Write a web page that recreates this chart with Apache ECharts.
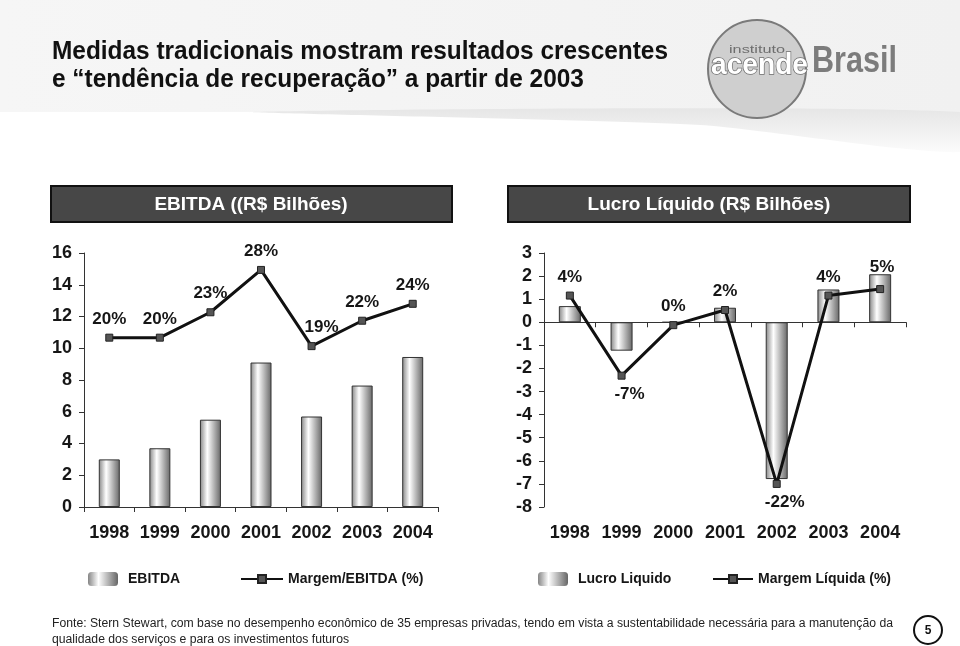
<!DOCTYPE html>
<html>
<head>
<meta charset="utf-8">
<script src="https://cdn.jsdelivr.net/npm/echarts@6/dist/echarts.min.js"></script>
<style>
html,body{margin:0;padding:0;background:#fff;}
#chart{width:960px;height:646px;}
</style>
</head>
<body>
<div id="chart"></div>
<script>
// ---- data ----
const years = ['1998', '1999', '2000', '2001', '2002', '2003', '2004'];
const ebitda = [3.0, 3.7, 5.5, 9.1, 5.7, 7.65, 9.45];            // R$ bilhões
const ebitdaMargin = [20, 20, 23, 28, 19, 22, 24];               // %
const lucro = [0.70, -1.23, 0, 0.63, -6.79, 1.42, 2.08];         // R$ bilhões
const lucroMargin = [3.7, -7.4, -0.4, 1.7, -22.4, 3.7, 4.6];     // %
const leftTitle = 'EBITDA ((R$ Bilhões)';
const rightTitle = 'Lucro Líquido (R$ Bilhões)';
const seriesNames = ['EBITDA', 'Margem/EBITDA (%)', 'Lucro Liquido', 'Margem Líquida (%)'];
const titleLines = ['Medidas tradicionais mostram resultados crescentes', 'e \u201Ctendência de recuperação\u201D a partir de 2003'];
const footerLines = ['Fonte: Stern Stewart, com base no desempenho econômico de 35 empresas privadas, tendo em vista a sustentabilidade necessária para a manutenção da',
                     'qualidade dos serviços e para os investimentos futuros'];
const logoTexts = ['instituto', 'acende', 'Brasil'];
const pageNumber = '5';

// ---- helpers ----
const FF = '"Liberation Sans", Arial, sans-serif';
const mctx = document.createElement('canvas').getContext('2d');
function fitScale(text, font, target) { mctx.font = font; return target / mctx.measureText(text).width; }

const barGrad = {
  type: 'linear', x: 0, y: 0, x2: 1, y2: 0,
  colorStops: [
    {offset: 0, color: '#858585'},
    {offset: 0.35, color: '#ffffff'},
    {offset: 1, color: '#666666'}
  ]
};
const txt = '#161616';
const axisCol = '#333';

const titleFont = 'bold 26px ' + FF;
const titleScale = fitScale(titleLines[0], titleFont, 616);
const footFont = '12px ' + FF;
const footScale = fitScale(footerLines[0], footFont, 841);

const instFont = '10px ' + FF;
const acendeFont = 'bold 30px ' + FF;
const brasilFont = 'bold 36px ' + FF;

const chart = echarts.init(document.getElementById('chart'), null, {renderer: 'canvas'});

function axisLabelStyle(margin) {
  return {margin: margin, interval: 0, fontSize: 18, fontWeight: 'bold', color: txt, fontFamily: FF};
}

const lineLabel = {
  show: true, position: 'top', distance: 6,
  fontSize: 17, fontWeight: 'bold', color: txt, fontFamily: FF,
  formatter: p => Math.round(p.value) + '%'
};

const legendText = {fontSize: 14, fontWeight: 'bold', color: txt, fontFamily: FF};

const option = {
  backgroundColor: '#ffffff',
  animation: false,
  grid: [
    {left: 84, top: 253, width: 354, height: 254},
    {left: 544, top: 253, width: 362, height: 254}
  ],
  xAxis: [
    {gridIndex: 0, type: 'category', data: years,
     axisLine: {lineStyle: {color: axisCol, width: 1}},
     axisTick: {show: true, length: 5, lineStyle: {color: axisCol}},
     axisLabel: axisLabelStyle(17)},
    {gridIndex: 1, type: 'category', data: years,
     axisLine: {onZero: true, lineStyle: {color: axisCol, width: 1}},
     axisTick: {show: true, length: 5, lineStyle: {color: axisCol}},
     axisLabel: {show: false}},
    {gridIndex: 1, type: 'category', data: years, position: 'bottom',
     axisLine: {show: false, onZero: false}, axisTick: {show: false},
     axisLabel: axisLabelStyle(17)}
  ],
  yAxis: [
    {gridIndex: 0, type: 'value', min: 0, max: 16, interval: 2,
     axisLine: {show: true, lineStyle: {color: axisCol}},
     axisTick: {show: true, length: 5, lineStyle: {color: axisCol}},
     splitLine: {show: false},
     axisLabel: axisLabelStyle(12)},
    {gridIndex: 0, type: 'value', min: 0, max: 30, show: false, splitLine: {show: false}},
    {gridIndex: 1, type: 'value', min: -8, max: 3, interval: 1,
     axisLine: {show: true, lineStyle: {color: axisCol}},
     axisTick: {show: true, length: 5, lineStyle: {color: axisCol}},
     splitLine: {show: false},
     axisLabel: axisLabelStyle(12)},
    {gridIndex: 1, type: 'value', min: -25.6, max: 9.6, show: false, splitLine: {show: false}}
  ],
  legend: [
    {data: [seriesNames[0]], left: 88, top: 572, itemWidth: 30, itemHeight: 14, padding: 0, selectedMode: false,
     itemStyle: {borderWidth: 0},
     textStyle: Object.assign({padding: [0, 0, 0, 5]}, legendText)},
    {data: [seriesNames[1]], left: 240, top: 572, itemWidth: 42, itemHeight: 10, padding: 0, selectedMode: false,
     textStyle: legendText},
    {data: [seriesNames[2]], left: 538, top: 572, itemWidth: 30, itemHeight: 14, padding: 0, selectedMode: false,
     itemStyle: {borderWidth: 0},
     textStyle: Object.assign({padding: [0, 0, 0, 5]}, legendText)},
    {data: [seriesNames[3]], left: 712, top: 572, itemWidth: 40, itemHeight: 10, padding: 0, selectedMode: false,
     textStyle: legendText}
  ],
  series: [
    {name: seriesNames[0], type: 'bar', xAxisIndex: 0, yAxisIndex: 0, data: ebitda, barWidth: 21,
     itemStyle: {color: barGrad, borderColor: '#333', borderWidth: 1}},
    {name: seriesNames[1], type: 'line', xAxisIndex: 0, yAxisIndex: 1,
     data: ebitdaMargin.map((v, i) => i === 4 ? {value: v, label: {offset: [10, 0]}} : v),
     symbol: 'rect', symbolSize: 7,
     lineStyle: {color: '#111', width: 3},
     itemStyle: {color: '#555', borderColor: '#222', borderWidth: 1},
     label: lineLabel, z: 5},
    {name: seriesNames[2], type: 'bar', xAxisIndex: 1, yAxisIndex: 2, data: lucro, barWidth: 22,
     itemStyle: {color: barGrad, borderColor: '#333', borderWidth: 1}},
    {name: seriesNames[3], type: 'line', xAxisIndex: 1, yAxisIndex: 3,
     data: lucroMargin.map((v, i) => v < -1 ? {value: v, label: {position: 'bottom', offset: [8, 0]}}
                                  : (i === 6 ? {value: v, label: {offset: [2, -3]}} : v)),
     symbol: 'rect', symbolSize: 7,
     lineStyle: {color: '#111', width: 3},
     itemStyle: {color: '#555', borderColor: '#222', borderWidth: 1},
     label: lineLabel, z: 5}
  ],
  graphic: [
    // top band
    {type: 'rect', z: -10, shape: {x: 0, y: 0, width: 960, height: 112},
     style: {fill: {type: 'linear', x: 0, y: 0, x2: 1, y2: 0, colorStops: [{offset: 0, color: '#f6f6f6'}, {offset: 1, color: '#f1f1f1'}]}}},
    {type: 'polygon', z: -10, shape: {points: [[250, 112], [960, 112], [960, 152], [700, 125]], smooth: 0.2},
     style: {fill: {type: 'linear', x: 0, y: 0, x2: 0, y2: 1, colorStops: [{offset: 0, color: '#e6e6e6'}, {offset: 1, color: '#fbfbfb'}]}}},
    // title
    {type: 'text', x: 52, y: 52, scaleX: titleScale, style: {text: titleLines[0], font: titleFont, fill: '#111', textAlign: 'left', textVerticalAlign: 'middle'}},
    {type: 'text', x: 52, y: 80, scaleX: titleScale, style: {text: titleLines[1], font: titleFont, fill: '#111', textAlign: 'left', textVerticalAlign: 'middle'}},
    // logo
    {type: 'circle', shape: {cx: 757, cy: 69, r: 49}, style: {fill: '#cfcfcf', stroke: '#7a7a7a', lineWidth: 2}},
    {type: 'text', x: 729, y: 50, scaleX: fitScale(logoTexts[0], instFont, 56),
     style: {text: logoTexts[0], font: instFont, fill: '#6e6e6e', textAlign: 'left', textVerticalAlign: 'middle'}},
    {type: 'text', x: 711, y: 66, scaleX: fitScale(logoTexts[1], acendeFont, 97),
     style: {text: logoTexts[1], font: acendeFont, fill: '#ffffff', stroke: '#6e6e6e', lineWidth: 1.5, textAlign: 'left', textVerticalAlign: 'middle'}},
    {type: 'text', x: 812, y: 62, scaleX: fitScale(logoTexts[2], brasilFont, 85),
     style: {text: logoTexts[2], font: brasilFont, fill: '#7c7c7c', textAlign: 'left', textVerticalAlign: 'middle'}},
    // panel headers
    {type: 'rect', shape: {x: 51, y: 186, width: 401, height: 36}, style: {fill: '#474747', stroke: '#111', lineWidth: 2}},
    {type: 'text', x: 251, y: 205, style: {text: leftTitle, font: 'bold 19px ' + FF, fill: '#fff', textAlign: 'center', textVerticalAlign: 'middle'}},
    {type: 'rect', shape: {x: 508, y: 186, width: 402, height: 36}, style: {fill: '#474747', stroke: '#111', lineWidth: 2}},
    {type: 'text', x: 709, y: 205, style: {text: rightTitle, font: 'bold 19px ' + FF, fill: '#fff', textAlign: 'center', textVerticalAlign: 'middle'}},
    // footer
    {type: 'text', x: 52, y: 624, scaleX: footScale, style: {text: footerLines[0], font: footFont, fill: '#222', textAlign: 'left', textVerticalAlign: 'middle'}},
    {type: 'text', x: 52, y: 640, scaleX: footScale, style: {text: footerLines[1], font: footFont, fill: '#222', textAlign: 'left', textVerticalAlign: 'middle'}},
    {type: 'circle', shape: {cx: 928, cy: 630, r: 14}, style: {fill: '#fff', stroke: '#111', lineWidth: 2}},
    {type: 'text', x: 928, y: 631, style: {text: pageNumber, font: 'bold 12px ' + FF, fill: '#111', textAlign: 'center', textVerticalAlign: 'middle'}}
  ]
};
chart.setOption(option);
</script>
</body>
</html>
